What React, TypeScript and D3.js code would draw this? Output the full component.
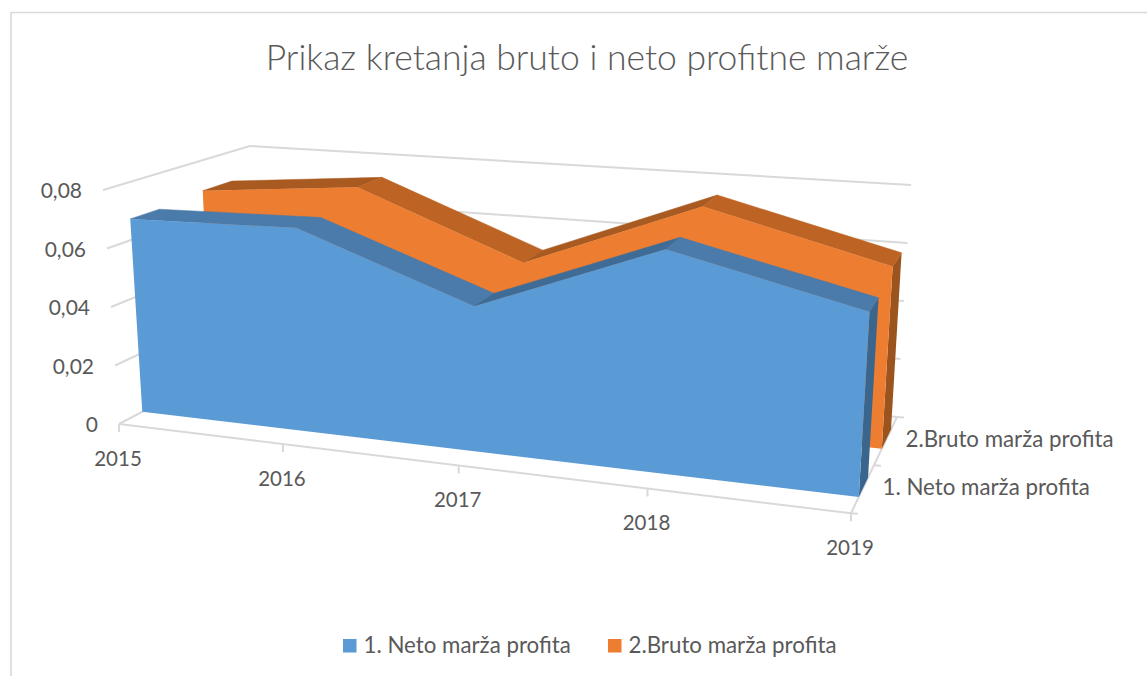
import React from "react";
import * as d3 from "d3";

const years = ["2015", "2016", "2017", "2018", "2019"];
const netoValues = [0.0673, 0.0686, 0.0474, 0.0707, 0.0563];
const brutoValues = [0.0688, 0.0739, 0.0514, 0.0752, 0.0597];
const valueTicks = [0, 0.02, 0.04, 0.06, 0.08];
const valueLabels = ["0", "0,02", "0,04", "0,06", "0,08"];
const seriesNames = ["1. Neto marža profita", "2.Bruto marža profita"];
const title = "Prikaz kretanja bruto i neto profitne marže";

const FONT = "Lato, sans-serif";
const TEXT = "#595959";
const GRID = "#D9D9D9";

// projected corners of the 3D plot box: [x position, value, depth]
const corners = {
  flb: [119, 424], frb: [851, 513.3], blb: [256, 352], brb: [897, 417],
  flt: [103, 190], frt: [866.5, 244], blt: [250, 146], brt: [911, 185],
};
const lerp = (a: number[], b: number[], t: number) => [a[0] + (b[0] - a[0]) * t, a[1] + (b[1] - a[1]) * t];
const valueScale = d3.scaleLinear().domain([0, 0.08]).range([0, 1]);
const xIndex = d3.scaleLinear().domain([0, years.length - 1]).range([0, 1]);
const perspective = 1.155;
const warp = (t: number) => t / (t + perspective * (1 - t));

function project(i: number, value: number, depth: number): [number, number] {
  const u = warp(xIndex(i));
  const h = valueScale(value);
  const fb = lerp(corners.flb, corners.frb, u);
  const bb = lerp(corners.blb, corners.brb, u);
  const ft = lerp(corners.flt, corners.frt, u);
  const bt = lerp(corners.blt, corners.brt, u);
  const p = lerp(lerp(fb, bb, depth), lerp(ft, bt, depth), h);
  return [p[0], p[1]];
}

const path = d3.line<[number, number]>().x((d) => d[0]).y((d) => d[1]);
const poly = (pts: [number, number][]) => path(pts) + "Z";

const last = years.length - 1;
const series = [
  { values: brutoValues, d0: 0.67, d1: 0.87, front: "#ED7D31", fall: "#BD6425", rise: "#A95A20", side: "#9C541E" },
  { values: netoValues, d0: 0.17, d1: 0.37, front: "#5B9BD5", fall: "#4A7BAA", rise: "#3F6C96", side: "#3A668E" },
];

function Line({ a, b }: { a: [number, number]; b: [number, number] }) {
  return <line x1={a[0]} y1={a[1]} x2={b[0]} y2={b[1]} stroke={GRID} strokeWidth={2} />;
}

function Area3D({ s }: { s: (typeof series)[number] }) {
  const fronts = s.values.map((v, i) => project(i, v, s.d0));
  const backs = s.values.map((v, i) => project(i, v, s.d1));
  return (
    <g>
      <path d={poly([project(last, 0, s.d0), project(last, 0, s.d1), backs[last], fronts[last]])} fill={s.side} />
      {s.values.slice(1).map((v, k) => (
        <path
          key={k}
          d={poly([fronts[k], backs[k], backs[k + 1], fronts[k + 1]])}
          fill={v > s.values[k] + 0.005 ? s.rise : s.fall}
          stroke={v > s.values[k] + 0.005 ? s.rise : s.fall}
          strokeWidth={0.5}
        />
      ))}
      <path d={poly([project(0, 0, s.d0), ...fronts, project(last, 0, s.d0)])} fill={s.front} />
    </g>
  );
}

export default function App() {
  return (
    <svg
      width={1147}
      height={676}
      style={{ position: "absolute", left: 0, top: 0, display: "block", background: "#fff" }}
      fontFamily={FONT}
    >
      <path d="M11 676V12.5H1147" fill="none" stroke={GRID} strokeWidth={1.6} />
      <text x={587} y={70} textAnchor="middle" fontSize={35.5} fontWeight={300} fill={TEXT}>{title}</text>

      {valueTicks.map((v) => (
        <g key={v}>
          <Line a={project(0, v, 0)} b={project(0, v, 1)} />
          <Line a={project(0, v, 1)} b={project(last, v, 1)} />
        </g>
      ))}
      <Line a={project(0, 0, 0)} b={project(last, 0, 0)} />
      <Line a={project(last, 0, 0)} b={project(last, 0, 1)} />
      {years.map((y, i) => {
        const p = project(i, 0, 0);
        return <Line key={y} a={p} b={[p[0], p[1] + 8]} />;
      })}
      {[0, 0.5, 1].map((d) => {
        const p = project(last, 0, d);
        return <Line key={d} a={p} b={[p[0] + 7, p[1] + 0.5]} />;
      })}

      {series.map((s, i) => <Area3D key={i} s={s} />)}

      {valueTicks.map((v, i) => {
        const p = project(0, v, 0);
        return (
          <text key={v} x={p[0] - 21} y={p[1] + 8} textAnchor="end" fontSize={21} fill={TEXT}>{valueLabels[i]}</text>
        );
      })}
      {years.map((y, i) => {
        const p = project(i, 0, 0);
        return (
          <text key={y} x={p[0] - 1} y={p[1] + 42} textAnchor="middle" fontSize={20.5} fill={TEXT}>{y}</text>
        );
      })}
      {seriesNames.map((n, i) => {
        const p = project(last, 0, i === 0 ? 0.25 : 0.75);
        return <text key={n} x={p[0] + 20} y={p[1] + 6} fontSize={22.3} fill={TEXT}>{n}</text>;
      })}

      {seriesNames.map((n, i) => {
        const x = [343, 608][i];
        return (
          <g key={n}>
            <rect x={x} y={639} width={13.5} height={13.5} fill={["#5B9BD5", "#ED7D31"][i]} />
            <text x={x + 20.5} y={653} fontSize={22.3} fill={TEXT}>{n}</text>
          </g>
        );
      })}
    </svg>
  );
}
